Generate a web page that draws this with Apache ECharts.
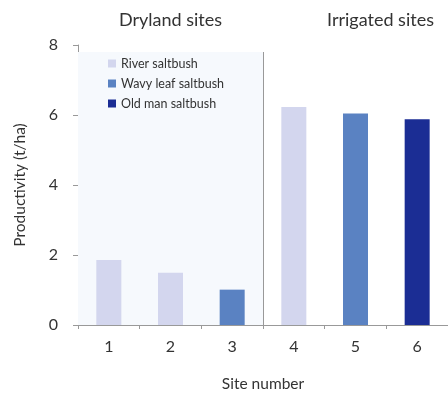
<!DOCTYPE html>
<html><head><meta charset="utf-8">
<script src="https://cdn.jsdelivr.net/npm/echarts@6/dist/echarts.min.js"></script>
<style>html,body{margin:0;padding:0;background:#fff}#c{width:448px;height:397px}</style>
</head><body><div id="c"></div>
<script>
const sites = ['1','2','3','4','5','6'];
const riverSaltbush = [1.86, 1.49, null, 6.23, null, null];
const wavyLeafSaltbush = [null, null, 1.01, null, 6.04, null];
const oldManSaltbush = [null, null, null, null, null, 5.88];
const seriesNames = ['River saltbush', 'Wavy leaf saltbush', 'Old man saltbush'];
const colors = ['#d3d6ee', '#5a82c2', '#1b2d94'];
const groupTitles = ['Dryland sites', 'Irrigated sites'];
const drylandCount = 3;

const font = 'Lato, "Open Sans", sans-serif';
const chart = echarts.init(document.getElementById('c'), null, {renderer: 'canvas'});
const barSeries = [riverSaltbush, wavyLeafSaltbush, oldManSaltbush].map((d, i) => ({
  name: seriesNames[i], type: 'bar', stack: 'all', data: d, barWidth: 25,
  itemStyle: {color: colors[i]}, xAxisIndex: 0
}));
chart.setOption({
  animation: false,
  textStyle: {fontFamily: font},
  title: [
    {text: groupTitles[0], left: 114, top: 6, textStyle: {fontSize: 18, fontWeight: 'normal', color: '#333', fontFamily: font}},
    {text: groupTitles[1], left: 322, top: 6, textStyle: {fontSize: 18, fontWeight: 'normal', color: '#333', fontFamily: font}}
  ],
  legend: {
    data: seriesNames, orient: 'vertical', left: 103, top: 52, itemWidth: 8, itemHeight: 8, itemGap: 7,
    icon: 'rect', textStyle: {fontSize: 12.5, color: '#333', fontFamily: font}
  },
  grid: {left: 78, top: 45, width: 372, bottom: 70, containLabel: false},
  xAxis: [{
    type: 'category', data: sites, name: 'Site number', nameLocation: 'middle', nameGap: 51,
    nameTextStyle: {fontSize: 15.5, color: '#333'},
    axisLine: {lineStyle: {color: '#999'}},
    axisTick: {show: true, length: 4, lineStyle: {color: '#999'}},
    axisLabel: {fontSize: 16, color: '#333', margin: 14}
  }, {
    type: 'value', min: 0, max: sites.length, show: false
  }],
  yAxis: {
    type: 'value', min: 0, max: 8, interval: 2, name: 'Productivity (t/ha)', nameLocation: 'middle', nameGap: 50,
    nameTextStyle: {fontSize: 15.5, color: '#333'},
    axisLine: {show: true, lineStyle: {color: '#999'}},
    axisTick: {show: true, length: 5, lineStyle: {color: '#999'}},
    splitLine: {show: false},
    axisLabel: {fontSize: 16, color: '#333', margin: 20}
  },
  series: [{
    type: 'line', xAxisIndex: 1, data: [], silent: true,
    markArea: {silent: true, itemStyle: {color: '#f6f9fd'}, data: [[{xAxis: 0, yAxis: 0}, {xAxis: drylandCount, yAxis: 7.8}]]},
    markLine: {silent: true, symbol: 'none', label: {show: false}, lineStyle: {color: '#999', type: 'solid', width: 1},
      data: [[{coord: [drylandCount, 0]}, {coord: [drylandCount, 7.8]}]]}
  }].concat(barSeries)
});
</script></body></html>
